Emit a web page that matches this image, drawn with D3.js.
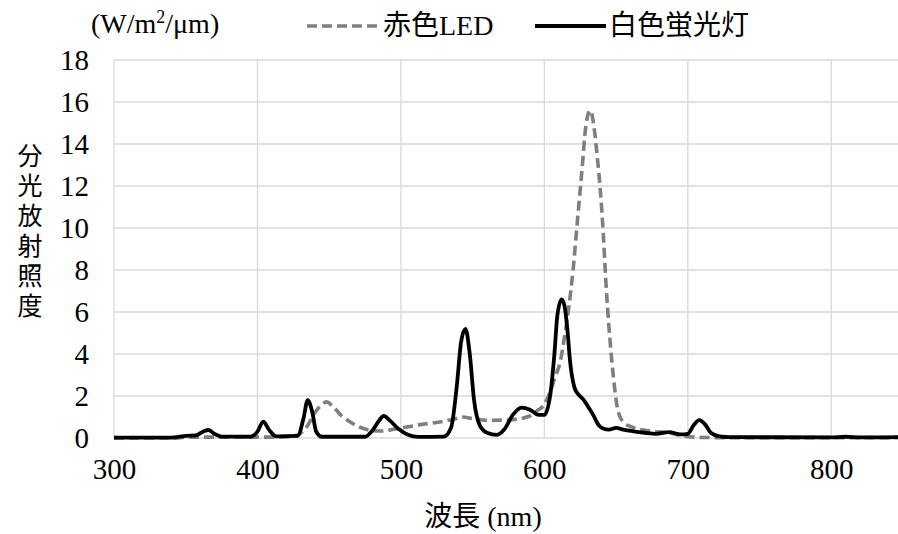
<!DOCTYPE html>
<html>
<head>
<meta charset="utf-8">
<script src="https://cdn.jsdelivr.net/npm/d3@7"></script>
<style>
  body { margin: 0; background: #fff; }
  text { font-family: "Liberation Serif", "Times New Roman", "Noto Sans CJK JP", serif; fill: #000; }
</style>
</head>
<body>
<svg id="chart"></svg>
<script>
// wavelengths (nm) and spectral irradiance (W/m2/um)
const ledWave = [300, 345, 350, 400, 420, 428, 434, 440, 445, 448, 452, 458, 465, 472, 480, 488, 495, 504, 515, 527, 536, 543, 550, 560, 570, 581, 590, 595, 600, 604, 608, 611, 614, 617, 620, 623, 626, 629, 632, 635, 637, 639, 641, 643, 645, 648, 651, 655, 660, 669, 678, 687, 695, 703, 717, 850];
const ledVal = [0, 0, 0.04, 0.04, 0.05, 0.15, 0.5, 1.2, 1.6, 1.72, 1.55, 1.1, 0.75, 0.5, 0.35, 0.33, 0.42, 0.52, 0.65, 0.76, 0.88, 1.0, 0.92, 0.84, 0.85, 0.9, 1.05, 1.3, 1.6, 2.2, 3.0, 3.6, 4.8, 6.2, 8.0, 10.3, 12.6, 14.9, 15.6, 14.6, 13.3, 11.8, 9.8, 7.3, 5.3, 3.0, 1.4, 0.75, 0.55, 0.38, 0.3, 0.25, 0.12, 0.05, 0.02, 0.02];

const lampWave = [300, 340, 345, 350, 357, 362, 366, 370, 375, 395, 400, 404, 408, 413, 428, 432, 435, 438, 441, 445, 475, 480, 485, 488, 492, 498, 505, 512, 530, 535, 539, 542, 545, 548, 551, 555, 560, 567, 572, 578, 584, 590, 596, 600, 604, 607, 609, 612, 614, 616, 618, 621, 624, 627, 630, 634, 638, 641, 645, 650, 655, 662, 670, 678, 687, 695, 700, 704, 708, 712, 716, 722, 730, 800, 810, 820, 850];
const lampVal = [0.02, 0.02, 0.05, 0.1, 0.12, 0.3, 0.38, 0.2, 0.07, 0.06, 0.3, 0.78, 0.4, 0.08, 0.1, 0.9, 1.8, 1.3, 0.3, 0.06, 0.06, 0.35, 0.85, 1.05, 0.85, 0.45, 0.15, 0.05, 0.07, 0.5, 2.5, 4.6, 5.2, 4.0, 1.8, 0.6, 0.25, 0.15, 0.4, 1.1, 1.45, 1.35, 1.1, 1.1, 2.0, 4.0, 5.8, 6.6, 6.3, 5.2, 3.6, 2.4, 2.05, 1.85, 1.55, 1.1, 0.6, 0.45, 0.4, 0.48, 0.4, 0.32, 0.25, 0.2, 0.28, 0.17, 0.2, 0.6, 0.85, 0.65, 0.25, 0.08, 0.04, 0.03, 0.06, 0.03, 0.04];

const xTicks = [300, 400, 500, 600, 700, 800];
const yTicks = [0, 2, 4, 6, 8, 10, 12, 14, 16, 18];
const yTitle = ["分", "光", "放", "射", "照", "度"];

const width = 898;
const height = 534;

const svg = d3.select("#chart")
  .attr("width", width)
  .attr("height", height);

const x = d3.scaleLinear().domain([300, 850]).range([114, 903]);
const y = d3.scaleLinear().domain([0, 18]).range([438, 60]);

// grid
svg.append("g")
  .selectAll("line")
  .data(yTicks)
  .join("line")
  .attr("x1", x(300))
  .attr("x2", width)
  .attr("y1", d => y(d))
  .attr("y2", d => y(d))
  .attr("stroke", "#d9d9d9")
  .attr("stroke-width", 1.3);

svg.append("g")
  .selectAll("line")
  .data(xTicks)
  .join("line")
  .attr("x1", d => x(d))
  .attr("x2", d => x(d))
  .attr("y1", y(0))
  .attr("y2", y(18))
  .attr("stroke", "#d9d9d9")
  .attr("stroke-width", 1.3);

// axes (labels only, Excel style)
const xAxis = d3.axisBottom(x).tickValues(xTicks).tickSize(0).tickPadding(20);
const gx = svg.append("g")
  .attr("transform", `translate(0,${y(0)})`)
  .call(xAxis);
gx.select(".domain").remove();
gx.selectAll("text").style("font-size", "29px").attr("font-family", null);

const yAxis = d3.axisLeft(y).tickValues(yTicks).tickSize(0).tickPadding(25);
const gy = svg.append("g")
  .attr("transform", `translate(${x(300)},0)`)
  .call(yAxis);
gy.select(".domain").remove();
gy.selectAll("text").style("font-size", "29px").attr("font-family", null);

// series
const line = d3.line()
  .x(d => x(d[0]))
  .y(d => y(d[1]))
  .curve(d3.curveMonotoneX);

svg.append("path")
  .datum(d3.zip(ledWave, ledVal))
  .attr("fill", "none")
  .attr("stroke", "#7f7f7f")
  .attr("stroke-width", 3.6)
  .attr("stroke-dasharray", "10,5")
  .attr("d", line);

svg.append("path")
  .datum(d3.zip(lampWave, lampVal))
  .attr("fill", "none")
  .attr("stroke", "#000")
  .attr("stroke-width", 3.8)
  .attr("stroke-linejoin", "round")
  .attr("d", line);

// unit label
const unit = svg.append("text")
  .attr("x", 91)
  .attr("y", 33)
  .style("font-size", "28px");
unit.append("tspan").text("(W/m");
unit.append("tspan").attr("dy", -10).style("font-size", "18px").text("2");
unit.append("tspan").attr("dy", 10).text("/μm)");

// legend
svg.append("line")
  .attr("x1", 307).attr("x2", 377)
  .attr("y1", 26).attr("y2", 26)
  .attr("stroke", "#7f7f7f")
  .attr("stroke-width", 3.6)
  .attr("stroke-dasharray", "10,5");
svg.append("text")
  .attr("x", 383).attr("y", 35)
  .style("font-size", "28px")
  .text("赤色LED");

svg.append("line")
  .attr("x1", 535).attr("x2", 606)
  .attr("y1", 26).attr("y2", 26)
  .attr("stroke", "#000")
  .attr("stroke-width", 3.8);
svg.append("text")
  .attr("x", 609).attr("y", 35)
  .style("font-size", "28px")
  .text("白色蛍光灯");

// axis titles
svg.append("g")
  .selectAll("text")
  .data(yTitle)
  .join("text")
  .attr("x", 30)
  .attr("y", (d, i) => 165 + i * 30)
  .attr("text-anchor", "middle")
  .style("font-size", "25px")
  .text(d => d);

svg.append("text")
  .attr("x", 483)
  .attr("y", 526)
  .attr("text-anchor", "middle")
  .style("font-size", "28px")
  .text("波長 (nm)");
</script>
</body>
</html>
